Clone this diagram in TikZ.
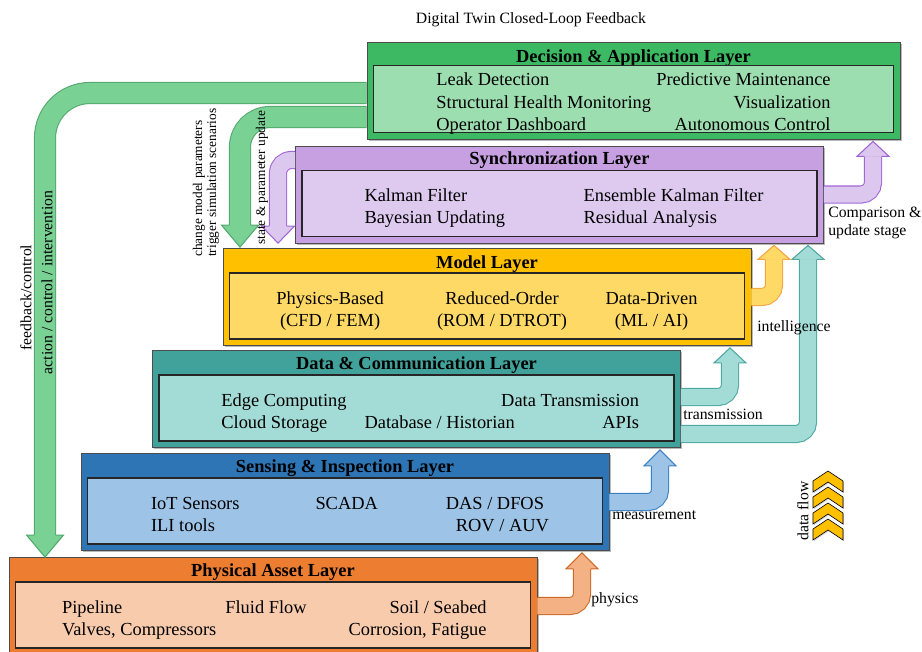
\documentclass[tikz,border=0pt]{standalone}
\usepackage{fontspec}
\setmainfont{Liberation Serif}
\usepackage{tikz}
\usetikzlibrary{positioning, calc, shadows}

\definecolor{decOuter}{HTML}{3DB963}
\definecolor{decInner}{HTML}{9DDEB0}
\definecolor{syncOuter}{HTML}{C6A0E0}
\definecolor{syncInner}{HTML}{DEC9EF}
\definecolor{modOuter}{HTML}{FFC000}
\definecolor{modInner}{HTML}{FFD966}
\definecolor{dataOuter}{HTML}{40A29A}
\definecolor{dataInner}{HTML}{A3DBD6}
\definecolor{senseOuter}{HTML}{2E75B6}
\definecolor{senseInner}{HTML}{9DC3E6}
\definecolor{physOuter}{HTML}{ED7D31}
\definecolor{physInner}{HTML}{F8CBAD}
\definecolor{grnFill}{HTML}{7AD194}
\definecolor{grnLine}{HTML}{55A86F}
\definecolor{purFill}{HTML}{DCC7EE}
\definecolor{purLine}{HTML}{A265D6}
\definecolor{yelFill}{HTML}{FFD966}
\definecolor{yelLine}{HTML}{F4A443}
\definecolor{tealFill}{HTML}{A3DCD7}
\definecolor{tealLine}{HTML}{4CA8A0}
\definecolor{bluFill}{HTML}{9DC3E6}
\definecolor{bluLine}{HTML}{3A7FC2}
\definecolor{orgFill}{HTML}{F4B183}
\definecolor{orgLine}{HTML}{CC6A25}
\definecolor{chevronGold}{HTML}{FFC000}

% panel text sits a little below the centre, box size unchanged
\newcommand{\lowered}[1]{\raisebox{-3.4pt}[\height][\depth]{#1}}

\begin{document}
\begin{tikzpicture}[
  x=0.75pt, y=-0.75pt,
  font=\fontsize{13.8}{16.6}\selectfont,
  layerbox/.style={
    draw=black!70,
    line width=0.6pt,
    minimum width=396pt,
    minimum height=72.75pt,
    inner sep=0pt,
    drop shadow={shadow xshift=1.2pt, shadow yshift=-1.2pt, opacity=0.55},
  },
  panel/.style={
    draw=black!85,
    line width=1.1pt,
    minimum width=386.25pt,
    minimum height=49.5pt,
    inner sep=0pt,
  },
  ltitle/.style={font=\fontsize{13.8}{16.6}\selectfont\bfseries, inner sep=0pt, anchor=base},
  flowlabel/.style={font=\fontsize{11.8}{13.5}\selectfont, inner sep=0pt},
  sidelabel/.style={font=\fontsize{10}{10.5}\selectfont, inner sep=0pt, rotate=90},
  band/.style={line width=0.8pt, double distance=12pt, rounded corners=9pt},
  wideband/.style={line width=0.8pt, double distance=15pt},
  head/.style={line width=0.8pt, line join=miter},
  chevron/.style={fill=chevronGold, draw=black, line width=0.5pt,
    drop shadow={shadow xshift=0.8pt, shadow yshift=-0.8pt, opacity=0.35}},
]
\useasboundingbox (0,0) rectangle (922,651);

\node[flowlabel] (title) at (531,19.5) {Digital Twin Closed-Loop Feedback};

% --- Decision & Application ---
\node[layerbox, fill=decOuter, minimum width=399.75pt] (decision) at (633.5,90.5) {};
\node[ltitle] (decisionTitle) at ($(decision.north)+(0,20.5)$) {Decision \& Application Layer};
\node[panel, fill=decInner, minimum width=390pt, minimum height=50.25pt, above=4.5pt of decision.south] (decisionPanel) {%
  \lowered{\begin{tabular}{@{}l@{\hspace{4pt}}r@{}}
  Leak Detection & Predictive Maintenance\\
  Structural Health Monitoring & Visualization\\
  Operator Dashboard & Autonomous Control\\
  \end{tabular}}%
};

% --- Synchronization ---
\node[layerbox, fill=syncOuter] (sync) at (559.5,194.5) {};
\node[ltitle] (syncTitle) at ($(sync.north)+(0,19)$) {Synchronization Layer};
\node[panel, fill=syncInner, above=4.5pt of sync.south] (syncPanel) {%
  \lowered{\begin{tabular}{@{\hspace{6.75pt}}l@{\hspace{58.9pt}}l@{}}
  Kalman Filter & Ensemble Kalman Filter\\
  Bayesian Updating & Residual Analysis\\
  \end{tabular}}%
};

% --- Model ---
\node[layerbox, fill=modOuter] (model) at (487,297) {};
\node[ltitle] (modelTitle) at ($(model.north)+(0,20)$) {Model Layer};
\node[panel, fill=modInner, above=4.5pt of model.south] (modelPanel) {%
  \lowered{\begin{tabular}{@{}c@{\hspace{40pt}}c@{\hspace{29pt}}c@{}}
  Physics-Based & Reduced-Order & Data-Driven\\
  (CFD / FEM) & (ROM / DTROT) & (ML / AI)\\
  \end{tabular}}%
};

% --- Data & Communication ---
\node[layerbox, fill=dataOuter] (data) at (416.5,399) {};
\node[ltitle] (dataTitle) at ($(data.north)+(0,19)$) {Data \& Communication Layer};
\node[panel, fill=dataInner, above=4.5pt of data.south] (dataPanel) {%
  \lowered{\begin{tabular}{@{\hspace{20.6pt}}l@{\hspace{13.5pt}}l@{\hspace{65.6pt}}r@{}}
  Edge Computing & \multicolumn{2}{r@{}}{Data Transmission}\\
  Cloud Storage & Database / Historian & APIs\\
  \end{tabular}}%
};

% --- Sensing & Inspection ---
\node[layerbox, fill=senseOuter] (sensing) at (345,502) {};
\node[ltitle] (sensingTitle) at ($(sensing.north)+(0,19.5)$) {Sensing \& Inspection Layer};
\node[panel, fill=senseInner, above=4.5pt of sensing.south] (sensingPanel) {%
  \lowered{\begin{tabular}{@{\hspace{7.5pt}}l@{\hspace{57pt}}l@{\hspace{51pt}}l@{}}
  IoT Sensors & SCADA & DAS / DFOS\\
  ILI tools & & \hspace{7.5pt}ROV / AUV\\
  \end{tabular}}%
};

% --- Physical Asset ---
\node[layerbox, fill=physOuter] (physical) at (273,606) {};
\node[ltitle] (physicalTitle) at ($(physical.north)+(0,19)$) {Physical Asset Layer};
\node[panel, fill=physInner, above=4.5pt of physical.south] (physicalPanel) {%
  \lowered{\begin{tabular}{@{\hspace{2pt}}l@{\hspace{77.25pt}}l@{\hspace{31.5pt}}r@{}}
  Pipeline & Fluid Flow & Soil / Seabed\\
  \multicolumn{2}{@{\hspace{2pt}}l@{\hspace{31.5pt}}}{Valves, Compressors} & Corrosion, Fatigue\\
  \end{tabular}}%
};

% Upward flow: physics
\coordinate (physTip) at ($(sensing.south)+(237,2)$);
\draw[band, draw=orgLine, double=orgFill] (physical.east) -| ($(physTip)+(0,16)$);
\filldraw[head, draw=orgLine, fill=orgFill] ($(physTip)+(-6.4pt,16)$) -- ($(physTip)+(-16,16)$) -- (physTip) -- ($(physTip)+(16,16)$) -- ($(physTip)+(6.4pt,16)$);

% Upward flow: measurement
\coordinate (measTip) at ($(data.south)+(243.5,2)$);
\draw[band, draw=bluLine, double=bluFill] (sensing.east) -| ($(measTip)+(0,16)$);
\filldraw[head, draw=bluLine, fill=bluFill] ($(measTip)+(-6.4pt,16)$) -- ($(measTip)+(-16,16)$) -- (measTip) -- ($(measTip)+(16,16)$) -- ($(measTip)+(6.4pt,16)$);

% Upward flow: transmission (to model)
\coordinate (transOut) at ($(data.east)+(0,-2)$);
\coordinate (transTip) at ($(model.south)+(243,2)$);
\draw[band, draw=tealLine, double=tealFill] (transOut) -| ($(transTip)+(0,15)$);
\filldraw[head, draw=tealLine, fill=tealFill] ($(transTip)+(-6.4pt,15)$) -- ($(transTip)+(-16,15)$) -- (transTip) -- ($(transTip)+(16,15)$) -- ($(transTip)+(6.4pt,15)$);

% Upward flow: transmission (to synchronization)
\coordinate (dataOut) at ($(data.east)+(0,35)$);
\coordinate (dataTip) at ($(sync.south)+(248.5,2)$);
\draw[band, draw=tealLine, double=tealFill] (dataOut) -| ($(dataTip)+(0,14)$);
\filldraw[head, draw=tealLine, fill=tealFill] ($(dataTip)+(-6.4pt,14)$) -- ($(dataTip)+(-16,14)$) -- (dataTip) -- ($(dataTip)+(16,14)$) -- ($(dataTip)+(6.4pt,14)$);

% Upward flow: intelligence
\coordinate (intelTip) at ($(sync.south)+(214.5,2)$);
\draw[band, draw=yelLine, double=yelFill] (model.east) -| ($(intelTip)+(0,14)$);
\filldraw[head, draw=yelLine, fill=yelFill] ($(intelTip)+(-6.4pt,14)$) -- ($(intelTip)+(-16,14)$) -- (intelTip) -- ($(intelTip)+(16,14)$) -- ($(intelTip)+(6.4pt,14)$);

% Upward flow: comparison & update
\coordinate (compTip) at ($(decision.south)+(239.5,2)$);
\draw[band, draw=purLine, double=purFill] (sync.east) -| ($(compTip)+(0,15)$);
\filldraw[head, draw=purLine, fill=purFill] ($(compTip)+(-6.4pt,15)$) -- ($(compTip)+(-16,15)$) -- (compTip) -- ($(compTip)+(16,15)$) -- ($(compTip)+(6.4pt,15)$);

% Downward: state & parameter update
\coordinate (stateOut) at ($(sync.west)+(0,-34.5)$);
\coordinate (stateTip) at ($(model.north)+(-209,-5)$);
\draw[band, rounded corners=10pt, draw=purLine, double=purFill] (stateOut) -| ($(stateTip)+(0,-17)$);
\filldraw[head, draw=purLine, fill=purFill] ($(stateTip)+(-6.4pt,-17)$) -- ($(stateTip)+(-16.5,-17)$) -- (stateTip) -- ($(stateTip)+(16.5,-17)$) -- ($(stateTip)+(6.4pt,-17)$);

% Downward: change model parameters
\coordinate (changeOut) at ($(decision.west)+(0,26.5)$);
\coordinate (changeTip) at ($(model.north)+(-247,-1)$);
\draw[wideband, rounded corners=22.5pt, draw=grnLine, double=grnFill] (changeOut) -| ($(changeTip)+(0,-22)$);
\filldraw[head, draw=grnLine, fill=grnFill] ($(changeTip)+(-7.9pt,-22)$) -- ($(changeTip)+(-18.5,-22)$) -- (changeTip) -- ($(changeTip)+(18.5,-22)$) -- ($(changeTip)+(7.9pt,-22)$);

% Downward: feedback / control
\coordinate (feedOut) at ($(decision.west)+(0,2.5)$);
\coordinate (feedTip) at ($(physical.north)+(-228,0)$);
\draw[wideband, rounded corners=33.75pt, draw=grnLine, double=grnFill] (feedOut) -| ($(feedTip)+(0,-22)$);
\filldraw[head, draw=grnLine, fill=grnFill] ($(feedTip)+(-7.9pt,-22)$) -- ($(feedTip)+(-18.5,-22)$) -- (feedTip) -- ($(feedTip)+(18.5,-22)$) -- ($(feedTip)+(7.9pt,-22)$);

% --- Labels ---
\node[flowlabel, anchor=west] (physLabel) at (591,600) {physics};
\node[flowlabel, anchor=west] (measLabel) at (612,515) {measurement};
\node[flowlabel, anchor=west] (transLabel) at (683,414) {transmission};
\node[flowlabel, anchor=west] (intelLabel) at (757,328) {intelligence};
\node[flowlabel, anchor=north west, align=left] (compLabel) at (828,206.5) {Comparison \&\\update stage};
\node[flowlabel, rotate=90] (feedLabel) at (26,297.5) {feedback/control};
\node[flowlabel, rotate=90] (actionLabel) at (47,282.5) {action / control / intervention};
\node[sidelabel, anchor=west, align=left] (changeLabel) at (206,257) {change model parameters\\trigger simulation scenarios};
\node[sidelabel, anchor=west] (stateLabel) at (262,245) {state \& parameter update};

% --- Data flow legend ---
\draw[chevron] (813,481) -- (828,471) -- (843,481) -- (843,492) -- (828,482) -- (813,492) -- cycle;
\draw[chevron] (813,497) -- (828,487) -- (843,497) -- (843,508) -- (828,498) -- (813,508) -- cycle;
\draw[chevron] (813,513) -- (828,503) -- (843,513) -- (843,524) -- (828,514) -- (813,524) -- cycle;
\draw[chevron] (813,529) -- (828,519) -- (843,529) -- (843,540) -- (828,530) -- (813,540) -- cycle;
\node[flowlabel, rotate=90] (flowLabel) at (803,511) {data flow};

\end{tikzpicture}
\end{document}
